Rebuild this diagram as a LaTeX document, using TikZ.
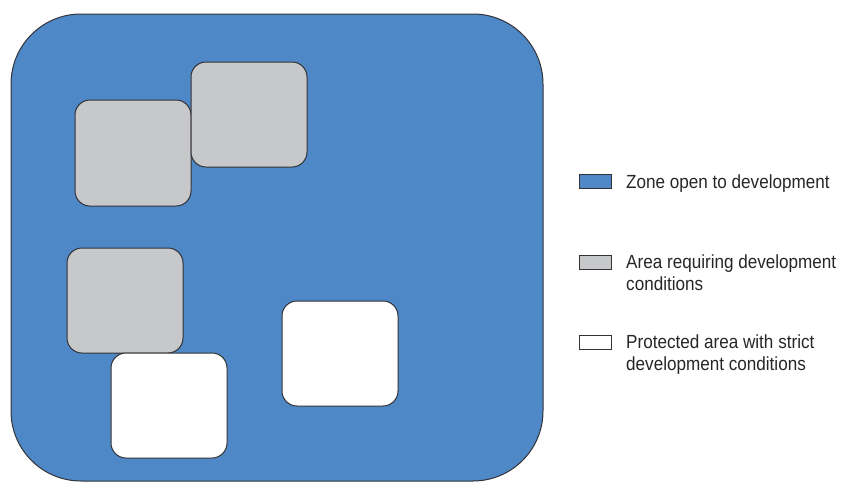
\documentclass[tikz,border=0pt]{standalone}
\usepackage{fontspec}
\setmainfont{Liberation Sans}[FakeStretch=0.9]
\definecolor{zoneblue}{RGB}{79,136,198}
\definecolor{areagray}{RGB}{199,200,202}
\definecolor{edgegray}{RGB}{50,50,55}
\begin{document}
\begin{tikzpicture}[x=1pt,y=-1pt,
  zone/.style={fill=zoneblue,draw=edgegray,line width=1pt,rounded corners=70pt},
  area/.style={draw=edgegray,line width=1pt,rounded corners=15pt},
  swatch/.style={draw=edgegray,line width=0.8pt},
  legtext/.style={anchor=base west,inner sep=0pt,align=left,text=black!85,
    font=\fontsize{19}{22}\selectfont}]
\useasboundingbox (0,0) rectangle (841,482);
\draw[zone] (11,14) rectangle (543,481);
\draw[area,fill=areagray] (75,100) rectangle (191,206);
\draw[area,fill=areagray] (191,62) rectangle (307,167);
\draw[area,fill=areagray] (67,248) rectangle (183,353);
\draw[area,fill=white] (111,353) rectangle (227,458);
\draw[area,fill=white] (282,301) rectangle (398,406);
% legend
\draw[swatch,fill=zoneblue] (579,174) rectangle (611,188);
\draw[swatch,fill=areagray] (579,255) rectangle (611,269);
\draw[swatch,fill=white] (579,335) rectangle (611,349);
\node[legtext] (l1) at (626,188) {Zone open to development};
\node[legtext] (l2) at (626,290) {Area requiring development\\conditions};
\node[legtext] (l3) at (626,370) {Protected area with strict\\development conditions};
\end{tikzpicture}
\end{document}
